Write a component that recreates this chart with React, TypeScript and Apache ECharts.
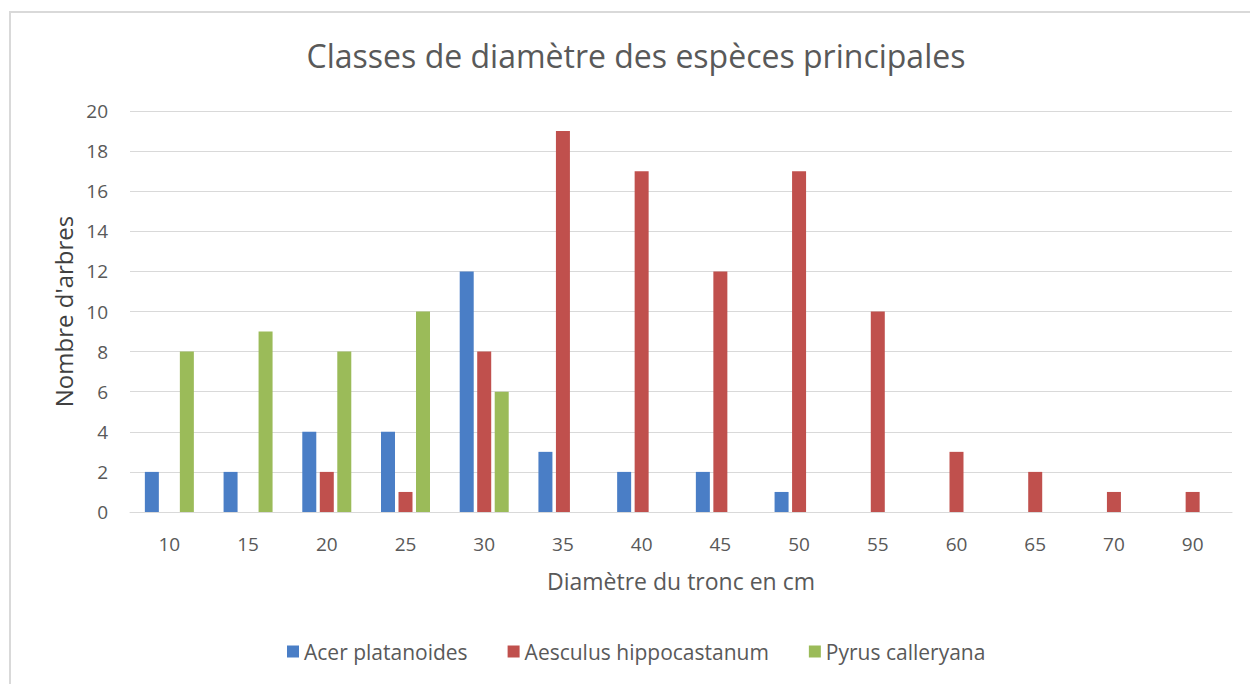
import React, { useEffect, useRef } from "react";
import * as echarts from "echarts";

const categories = ["10", "15", "20", "25", "30", "35", "40", "45", "50", "55", "60", "65", "70", "90"];
const acer = [2, 2, 4, 4, 12, 3, 2, 2, 1, 0, 0, 0, 0, 0];
const aesculus = [0, 0, 2, 1, 8, 19, 17, 12, 17, 10, 3, 2, 1, 1];
const pyrus = [8, 9, 8, 10, 6, 0, 0, 0, 0, 0, 0, 0, 0, 0];
const seriesNames = ["Acer platanoides", "Aesculus hippocastanum", "Pyrus calleryana"];
const colors = ["#4A7EC6", "#C0504D", "#9BBB59"];

const FONT = "'Open Sans', sans-serif";

export default function App() {
  const ref = useRef<HTMLDivElement>(null);
  useEffect(() => {
    document.body.style.margin = "0";
    const chart = echarts.init(ref.current!, null, { renderer: "svg" });
    const mk = (name: string, data: number[], color: string) => ({
      name,
      type: "bar",
      data,
      barWidth: 14,
      barGap: "25%",
      itemStyle: { color },
    });
    chart.setOption({
      animation: false,
      backgroundColor: "#ffffff",
      textStyle: { fontFamily: FONT },
      title: {
        text: "Classes de diamètre des espèces principales",
        left: 636,
        textAlign: "center",
        top: 39,
        padding: 0,
        textStyle: { fontFamily: FONT, fontSize: 32, fontWeight: "normal", color: "#595959" },
      },
      graphic: [
        {
          type: "rect",
          shape: { x: 10, y: 12, width: 1300, height: 720 },
          style: { fill: "none", stroke: "#d9d9d9", lineWidth: 2 },
          silent: true,
        },
      ],
      legend: {
        data: seriesNames,
        left: 287,
        top: 641,
        padding: 0,
        itemWidth: 12,
        itemHeight: 12,
        itemGap: 40,
        icon: "rect",
        textStyle: { fontFamily: FONT, fontSize: 21, color: "#595959" },
      },
      grid: { left: 130, right: 18, top: 111, bottom: 172 },
      xAxis: {
        type: "category",
        data: categories,
        name: "Diamètre du tronc en cm",
        nameLocation: "middle",
        nameGap: 57,
        nameTextStyle: { fontFamily: FONT, fontSize: 23, color: "#595959" },
        axisLine: { lineStyle: { color: "#d9d9d9", width: 1 } },
        axisTick: { show: false },
        axisLabel: { fontFamily: FONT, fontSize: 19, color: "#595959", margin: 22 },
      },
      yAxis: {
        type: "value",
        min: 0,
        max: 20,
        interval: 2,
        name: "Nombre d'arbres",
        nameLocation: "middle",
        nameGap: 52,
        nameTextStyle: { fontFamily: FONT, fontSize: 24, color: "#404040" },
        axisLine: { show: false },
        axisTick: { show: false },
        axisLabel: { fontFamily: FONT, fontSize: 19, color: "#595959", margin: 22 },
        splitLine: { lineStyle: { color: "#d9d9d9", width: 1 } },
      },
      series: [
        mk(seriesNames[0], acer, colors[0]),
        mk(seriesNames[1], aesculus, colors[1]),
        mk(seriesNames[2], pyrus, colors[2]),
      ],
    });
    return () => chart.dispose();
  }, []);
  return <div ref={ref} style={{ width: 1250, height: 684 }} />;
}
